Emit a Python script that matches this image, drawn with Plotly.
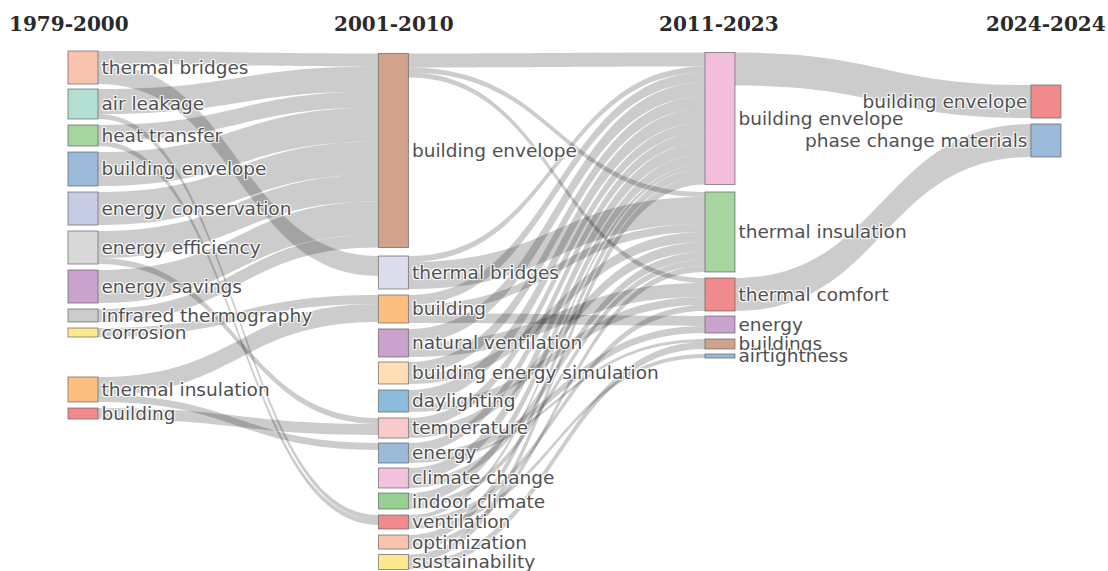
import plotly.graph_objects as go

# ---------------- data ----------------
periods = ["1979-2000", "2001-2010", "2011-2023", "2024-2024"]

labels_p1 = ["thermal bridges", "air leakage", "heat transfer", "building envelope",
             "energy conservation", "energy efficiency", "energy savings",
             "infrared thermography", "corrosion", "thermal insulation", "building"]
labels_p2 = ["building envelope", "thermal bridges", "building", "natural ventilation",
             "building energy simulation", "daylighting", "temperature", "energy",
             "climate change", "indoor climate", "ventilation", "optimization", "sustainability"]
labels_p3 = ["building envelope", "thermal insulation", "thermal comfort", "energy",
             "buildings", "airtightness"]
labels_p4 = ["building envelope", "phase change materials"]

colors_p1 = ["#F9C4AE", "#B3DFD3", "#A6D5A0", "#9BBAD9", "#C6CCE3", "#D9D9D9",
             "#C9A2CE", "#CCCCCC", "#FCE98F", "#FDBF7F", "#F08A8C"]
colors_p2 = ["#D1A38D", "#DCDCEC", "#FDBF7F", "#C9A2CE", "#FFDDB5", "#8DBBDB",
             "#F9CACB", "#9BBAD9", "#F2C1DD", "#98CF92", "#F08A8C", "#F9C4AE", "#FCE98F"]
colors_p3 = ["#F2BEDB", "#A6D5A0", "#F08A8C", "#C9A2CE", "#D1A38D", "#9BBAD9"]
colors_p4 = ["#F08A8C", "#9BBAD9"]

# links (indices into the concatenated node list)
link_source = [0, 0, 1, 1, 2, 2, 3, 4, 5, 5, 6, 7, 8, 9, 9, 10,
               11, 11, 11, 12, 12, 13, 13, 13, 14, 14, 15, 15, 16, 16,
               17, 17, 18, 18, 18, 19, 19, 20, 20, 21, 21, 21, 22, 22, 23, 23,
               24, 26]
link_target = [11, 12, 11, 21, 11, 21, 11, 11, 11, 17, 11, 11, 13, 13, 18, 17,
               24, 25, 26, 24, 25, 24, 25, 27, 24, 26, 24, 25, 24, 26,
               24, 25, 24, 27, 28, 24, 25, 24, 25, 24, 26, 29, 24, 25, 24, 28,
               30, 31]
link_value = [13, 20, 25, 5, 16, 5, 34, 33, 27, 6, 33, 13, 9, 18, 7, 11,
              14, 5, 5, 6, 27, 10, 8, 10, 14, 14, 12, 10, 14, 8,
              10, 10, 10, 7, 3, 12, 8, 10, 6, 4, 6, 4, 8, 6, 8, 7,
              33, 33]

# ---------------- layout helpers (node placement) ----------------
col_x = [0.0749, 0.3551, 0.6498, 0.9440]
y_p1 = [0.0318, 0.1021, 0.1628, 0.2274, 0.3035, 0.3786, 0.4538, 0.5096, 0.5424, 0.6522, 0.6985]
y_p2 = [0.1917, 0.4268, 0.4971, 0.5626, 0.6204, 0.6744, 0.7264, 0.7746, 0.8227,
        0.8671, 0.9075, 0.9461, 0.9846]
y_p3 = [0.1301, 0.3487, 0.4692, 0.5270, 0.5645, 0.5877]
y_p4 = [0.0973, 0.1724]

labels = labels_p1 + labels_p2 + labels_p3 + labels_p4
colors = colors_p1 + colors_p2 + colors_p3 + colors_p4
node_x = ([col_x[0]] * len(labels_p1) + [col_x[1]] * len(labels_p2)
          + [col_x[2]] * len(labels_p3) + [col_x[3]] * len(labels_p4))
node_y = y_p1 + y_p2 + y_p3 + y_p4

fig = go.Figure(go.Sankey(
    arrangement="fixed",
    domain=dict(x=[0, 1], y=[0, 1]),
    node=dict(
        label=labels,
        color=colors,
        x=node_x,
        y=node_y,
        pad=6.29,
        thickness=30,
        align="left",
        line=dict(color="rgba(90,90,90,0.65)", width=1),
    ),
    link=dict(
        source=link_source,
        target=link_target,
        value=link_value,
        color="rgba(0,0,0,0.2)",
    ),
    textfont=dict(family="DejaVu Sans", size=18.5, color="#505050"),
))

header_x = [69 / 1108, 394 / 1108, 719 / 1108, 1046 / 1108]
for px, txt in zip(header_x, periods):
    fig.add_annotation(x=px, y=1.052, xref="paper", yref="paper",
                       text="<b>" + txt + "</b>",
                       showarrow=False, xanchor="center", yanchor="middle",
                       font=dict(family="DejaVu Serif", size=20, color="#2a2a2a"))

fig.update_layout(
    width=1108, height=571,
    margin=dict(l=0, r=0, t=51, b=1),
    paper_bgcolor="white",
    plot_bgcolor="white",
    font=dict(family="DejaVu Sans"),
)

fig.write_html("out.html")
